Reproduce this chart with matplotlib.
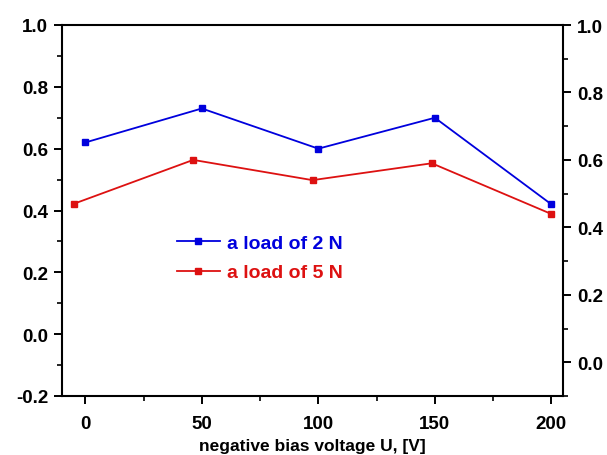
import matplotlib
matplotlib.use('Agg')
import matplotlib.pyplot as plt
from matplotlib.ticker import MultipleLocator

# ---- data ----
voltage = [0, 50, 100, 150, 200]
load_2N = [0.62, 0.73, 0.60, 0.70, 0.42]   # left axis layer
load_5N = [0.47, 0.60, 0.54, 0.59, 0.44]   # right axis layer
x_ticks = [0, 50, 100, 150, 200]
left_ticks = [-0.2, 0.0, 0.2, 0.4, 0.6, 0.8, 1.0]
right_ticks = [0.0, 0.2, 0.4, 0.6, 0.8, 1.0]
labels = ['a load of 2 N', 'a load of 5 N']
colors = ['#0000dd', '#dd1111']

plt.rcParams['font.family'] = ['Liberation Sans', 'DejaVu Sans']
plt.rcParams['font.weight'] = 'bold'

fig = plt.figure(figsize=(6.07, 4.56), dpi=100)
pos = [62/607, 1-397/456, (563-62)/607, (397-26)/456]
ax = fig.add_axes(pos)
ax2 = fig.add_axes(pos, frameon=False)

fs = 13.5
# main layer
l1, = ax.plot(voltage, load_2N, color=colors[0], lw=1.3, marker='s', ms=4.6,
              label=labels[0])
ax.set_xlim(-10, 205)
ax.set_ylim(-0.2, 1.0)
ax.set_xticks(x_ticks)
ax.set_xticklabels([str(v) for v in x_ticks], fontsize=fs, fontweight='bold')
ax.set_yticks(left_ticks)
ax.set_yticklabels(['%.1f' % v for v in left_ticks], fontsize=fs, fontweight='bold')
ax.xaxis.set_minor_locator(MultipleLocator(25))
ax.yaxis.set_minor_locator(MultipleLocator(0.1))
ax.tick_params(which='major', direction='out', length=6, width=1.4, pad=4,
               top=False, right=False)
ax.tick_params(axis='x', which='major', pad=8)
ax.tick_params(which='minor', direction='out', length=3.5, width=1.2,
               top=False, right=False)
for s in ax.spines.values():
    s.set_linewidth(1.5)
ax.set_xlabel('negative bias voltage U, [V]', fontsize=12.5, fontweight='bold',
              labelpad=4)

# second layer
l2, = ax2.plot(voltage, load_5N, color=colors[1], lw=1.3, marker='s', ms=4.6,
               label=labels[1])
ax2.set_xlim(-5, 205)
ax2.set_ylim(-0.1, 1.0)
ax2.xaxis.set_visible(False)
ax2.yaxis.tick_right()
ax2.set_yticks(right_ticks)
ax2.set_yticklabels(['%.1f' % v for v in right_ticks], fontsize=fs, fontweight='bold')
ax2.yaxis.set_minor_locator(MultipleLocator(0.1))
ax2.tick_params(which='major', direction='out', length=6, width=1.4, pad=4,
                left=False, right=True, labelleft=False, labelright=True)
ax2.tick_params(which='minor', direction='out', length=3.5, width=1.2,
                left=False, right=True)

leg = ax.legend(handles=[l1, l2], loc='center left',
                bbox_to_anchor=(177/607, 1-259/456), bbox_transform=fig.transFigure,
                frameon=False, fontsize=14, numpoints=1, handlelength=2.2,
                handletextpad=0.35, labelspacing=0.6, borderpad=0, borderaxespad=0)
for t, c in zip(leg.get_texts(), colors):
    t.set_color(c)
    t.set_fontweight('bold')

fig.savefig('out.png', dpi=100)
